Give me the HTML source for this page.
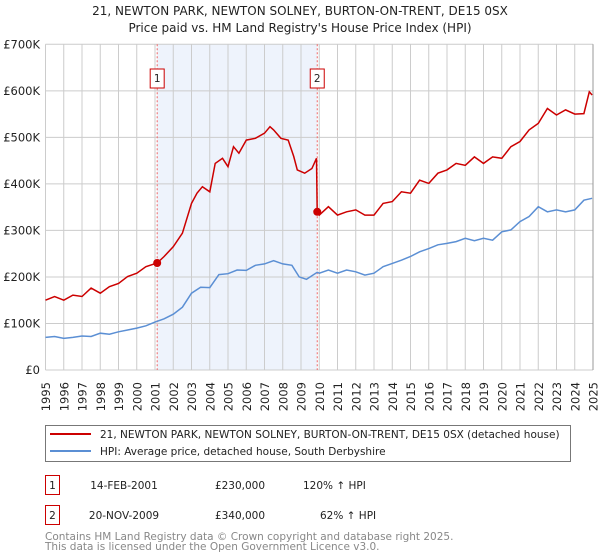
<!DOCTYPE html>
<html><head><meta charset="utf-8">
<style>
body{margin:0;background:#fff;}
svg{display:block;font-family:"DejaVu Sans","Liberation Sans",sans-serif;}
</style></head>
<body>
<svg id="chart" width="600" height="560" viewBox="0 0 600 560" xmlns="http://www.w3.org/2000/svg">
<text x="300" y="15" text-anchor="middle" font-size="12" fill="#222">21, NEWTON PARK, NEWTON SOLNEY, BURTON-ON-TRENT, DE15 0SX</text>
<text x="300" y="32" text-anchor="middle" font-size="12" fill="#222">Price paid vs. HM Land Registry's House Price Index (HPI)</text>
<g id="plot"></g>
<g>
<rect x="45.5" y="425.5" width="525" height="36" fill="#fff" stroke="#777"/>
<line x1="50" y1="434" x2="91" y2="434" stroke="#cc0000" stroke-width="2"/>
<text x="100" y="438" font-size="10.5" fill="#222">21, NEWTON PARK, NEWTON SOLNEY, BURTON-ON-TRENT, DE15 0SX (detached house)</text>
<line x1="50" y1="451" x2="91" y2="451" stroke="#5b8fd4" stroke-width="2"/>
<text x="100" y="455" font-size="10.5" fill="#222">HPI: Average price, detached house, South Derbyshire</text>
</g>
<g font-size="10.5" fill="#222">
<rect x="45.5" y="475.5" width="14" height="19" fill="#fff" stroke="#cc0000"/>
<text x="52.5" y="489" text-anchor="middle">1</text>
<text x="124" y="489" text-anchor="middle">14-FEB-2001</text>
<text x="240" y="489" text-anchor="middle">£230,000</text>
<text x="303" y="489">120% ↑ HPI</text>
<rect x="45.5" y="505.5" width="14" height="19" fill="#fff" stroke="#cc0000"/>
<text x="52.5" y="519" text-anchor="middle">2</text>
<text x="124" y="519" text-anchor="middle">20-NOV-2009</text>
<text x="240" y="519" text-anchor="middle">£340,000</text>
<text x="320" y="519">62% ↑ HPI</text>
</g>
<text x="45" y="540" font-size="10.5" fill="#888">Contains HM Land Registry data © Crown copyright and database right 2025.</text>
<text x="45" y="550" font-size="10.5" fill="#888">This data is licensed under the Open Government Licence v3.0.</text>
</svg>
<script>
const hpiDates=[1995,1995.5,1996,1996.5,1997,1997.5,1998,1998.5,1999,1999.5,2000,2000.5,2001,2001.5,2002,2002.5,2003,2003.5,2004,2004.5,2005,2005.5,2006,2006.5,2007,2007.5,2008,2008.5,2008.9,2009.3,2009.89,2010,2010.5,2011,2011.5,2012,2012.5,2013,2013.5,2014,2014.5,2015,2015.5,2016,2016.5,2017,2017.5,2018,2018.5,2019,2019.5,2020,2020.5,2021,2021.5,2022,2022.5,2023,2023.5,2024,2024.5,2024.95];
const hpiValues=[70,72,68,70,73,72,79,77,82,86,90,95,103,110,120,135,165,178,177,205,207,215,214,225,228,235,228,225,200,195,210,208,215,208,215,211,204,208,222,229,236,244,254,261,269,272,276,283,278,283,279,297,301,319,330,351,340,344,340,344,365,369];
const priceDates=[1995,1995.5,1996,1996.5,1997,1997.5,1998,1998.5,1999,1999.5,2000,2000.5,2001.12,2001.5,2002,2002.5,2003,2003.3,2003.6,2004,2004.3,2004.7,2005,2005.3,2005.6,2006,2006.5,2007,2007.3,2007.5,2007.9,2008.3,2008.6,2008.8,2009.2,2009.6,2009.85,2009.89,2010,2010.5,2011,2011.5,2012,2012.5,2013,2013.5,2014,2014.5,2015,2015.5,2016,2016.5,2017,2017.5,2018,2018.5,2019,2019.5,2020,2020.5,2021,2021.5,2022,2022.5,2023,2023.5,2024,2024.5,2024.8,2024.95];
const priceValues=[150,158,150,161,158,176,165,179,186,201,208,222,230,244,265,294,358,380,394,383,444,455,437,480,466,494,498,509,523,516,498,494,459,430,423,433,455,340,333,351,333,340,344,333,333,358,362,383,380,408,401,423,430,444,440,458,444,458,455,480,491,516,530,562,548,559,550,551,598,591];
const saleDates=[2001.12,2009.89];
const saleValues=[230,340];
const saleLabels=["1","2"];
const yTicks=[0,100,200,300,400,500,600,700];
const yTickLabels=["£0","£100K","£200K","£300K","£400K","£500K","£600K","£700K"];
const xYears=[1995,1996,1997,1998,1999,2000,2001,2002,2003,2004,2005,2006,2007,2008,2009,2010,2011,2012,2013,2014,2015,2016,2017,2018,2019,2020,2021,2022,2023,2024,2025];

const L=45.5,R=593,T=44.3,B=370;
function xs(t){return L+(t-1995)/(2025-1995)*(R-L);}
function ys(v){return B-v/700*(B-T);}
const NS="http://www.w3.org/2000/svg";
const g=document.getElementById('plot');
function mk(tag,attrs){const e=document.createElementNS(NS,tag);for(const k in attrs)e.setAttribute(k,attrs[k]);g.appendChild(e);return e;}

let e=mk('rect',{x:xs(saleDates[0]),y:T,width:xs(saleDates[1])-xs(saleDates[0]),height:B-T,fill:'#eef3fc'});


xYears.forEach(yr=>{
  const l=mk('line',{x1:xs(yr),x2:xs(yr),y1:T,y2:B,stroke:'#cccccc','stroke-width':1});
  
  
  const t=mk('text',{x:0,y:0,'font-size':11.5,fill:'#222','text-anchor':'end',transform:`translate(${xs(yr)+4.5},382) rotate(-90)`});
  t.textContent=yr;
  
  
});
yTicks.forEach((v,i)=>{
  const l=mk('line',{x1:L,x2:R,y1:ys(v),y2:ys(v),stroke:'#cccccc','stroke-width':1});
  
  
  const t=mk('text',{x:40,y:ys(v)+4,'font-size':11.5,fill:'#222','text-anchor':'end'});
  t.textContent=yTickLabels[i];
  
  
});
e=mk('line',{x1:R,x2:R,y1:T,y2:B,stroke:'#999','stroke-width':1});


saleDates.forEach((d,i)=>{
  const l=mk('line',{x1:xs(d),x2:xs(d),y1:T,y2:B,stroke:'#ee6666','stroke-width':1,'stroke-dasharray':'2,2'});
  
  
  const r=mk('rect',{x:xs(d)-7,y:69,width:14,height:19,fill:'#fff',stroke:'#cc0000'});
  
  
  const t=mk('text',{x:xs(d),y:82,'font-size':10.5,fill:'#222','text-anchor':'middle'});
  t.textContent=saleLabels[i];
  
  
});
function pts(ds,vs){return ds.map((d,i)=>xs(d).toFixed(1)+','+ys(vs[i]).toFixed(1)).join(' ');}
e=mk('polyline',{points:pts(hpiDates,hpiValues),fill:'none',stroke:'#5b8fd4','stroke-width':1.5});


e=mk('polyline',{points:pts(priceDates,priceValues),fill:'none',stroke:'#cc0000','stroke-width':1.5});


saleDates.forEach((d,i)=>{
  const c=mk('circle',{cx:xs(d),cy:ys(saleValues[i]),r:4,fill:'#cc0000'});
  
  
});
</script>
</body></html>
